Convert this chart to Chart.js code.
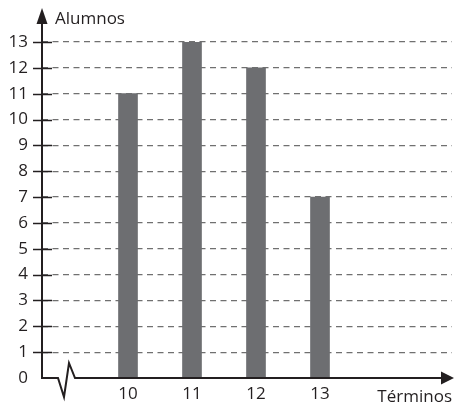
<!DOCTYPE html>
<html lang="es">
<head>
    <meta charset="UTF-8">
    <title>Alumnos por términos</title>
    <script src="https://cdn.jsdelivr.net/npm/chart.js"></script>
    <style>
        html, body { margin: 0; padding: 0; background: #fff; }
        #wrap { width: 454px; height: 404px; }
    </style>
</head>
<body>
    <div id="wrap"><canvas id="chart" width="454" height="404"></canvas></div>

    <script>
        // Data
        const terminos = [10, 11, 12, 13];
        const alumnos = [11, 13, 12, 7];
        const yTicks = [0, 1, 2, 3, 4, 5, 6, 7, 8, 9, 10, 11, 12, 13];
        const yTitle = 'Alumnos';
        const xTitle = 'Términos';

        const ink = '#231f20';
        const font = { family: 'Open Sans', size: 17 };

        // Axes, arrows, axis break and titles
        const axisPlugin = {
            id: 'axisPlugin',
            afterDraw(chart) {
                const ctx = chart.ctx;
                const y = chart.scales.y;
                const x0 = chart.chartArea.left;
                const y0 = y.getPixelForValue(0);
                ctx.save();
                ctx.strokeStyle = ink;
                ctx.fillStyle = ink;

                // tick marks crossing the axis
                ctx.lineWidth = 1.5;
                yTicks.forEach(v => {
                    if (v === 0) return;
                    const py = Math.round(y.getPixelForValue(v)) + 0.5;
                    ctx.beginPath();
                    ctx.moveTo(33, py);
                    ctx.lineTo(52, py);
                    ctx.stroke();
                });

                // y axis with arrow
                ctx.lineWidth = 2;
                ctx.beginPath();
                ctx.moveTo(x0, y0);
                ctx.lineTo(x0, 20);
                ctx.stroke();
                ctx.beginPath();
                ctx.moveTo(x0, 8);
                ctx.lineTo(x0 - 5.5, 24);
                ctx.lineTo(x0 + 5.5, 24);
                ctx.closePath();
                ctx.fill();

                // x axis with break and arrow
                ctx.beginPath();
                ctx.moveTo(x0 - 1, y0);
                ctx.lineTo(58, y0);
                ctx.lineTo(64, y0 + 19);
                ctx.lineTo(69, y0 - 15);
                ctx.lineTo(75, y0);
                ctx.lineTo(443, y0);
                ctx.stroke();
                ctx.beginPath();
                ctx.moveTo(454, y0);
                ctx.lineTo(441, y0 - 6.5);
                ctx.lineTo(441, y0 + 6.5);
                ctx.closePath();
                ctx.fill();

                // titles
                ctx.font = font.size + 'px ' + font.family;
                ctx.textBaseline = 'alphabetic';
                ctx.textAlign = 'left';
                ctx.fillText(yTitle, 55, 24);
                ctx.textAlign = 'right';
                ctx.fillText(xTitle, 452, 402);
                ctx.restore();
            }
        };

        const ctx = document.getElementById('chart').getContext('2d');
        const chart = new Chart(ctx, {
            type: 'bar',
            data: {
                datasets: [{
                    data: terminos.map((t, i) => ({ x: t, y: alumnos[i] })),
                    backgroundColor: '#6d6e71',
                    barThickness: 19
                }]
            },
            options: {
                responsive: false,
                animation: false,
                devicePixelRatio: 1,
                layout: { padding: { top: 42, right: 2, bottom: 0, left: 0 } },
                plugins: { legend: { display: false }, tooltip: { enabled: false } },
                scales: {
                    x: {
                        type: 'linear',
                        offset: false,
                        min: 8.65625,
                        max: 15.0625,
                        border: { display: false },
                        grid: { display: false, drawTicks: false, offset: false },
                        afterBuildTicks: s => { s.ticks = terminos.map(v => ({ value: v })); },
                        afterFit: s => { s.height = 26; },
                        ticks: { color: ink, font: font, padding: 6, maxRotation: 0 }
                    },
                    y: {
                        min: 0,
                        max: 13,
                        afterBuildTicks: s => { s.ticks = yTicks.map(v => ({ value: v })); },
                        afterFit: s => { s.width = 42; },
                        grid: {
                            color: c => (c.tick && c.tick.value === 0) ? 'rgba(0,0,0,0)' : '#707070',
                            lineWidth: 1.3,
                            drawTicks: false
                        },
                        border: { display: false, dash: [6, 4.5] },
                        ticks: { color: ink, font: font, padding: 14 }
                    }
                }
            },
            plugins: [axisPlugin]
        });
    </script>
</body>
</html>
